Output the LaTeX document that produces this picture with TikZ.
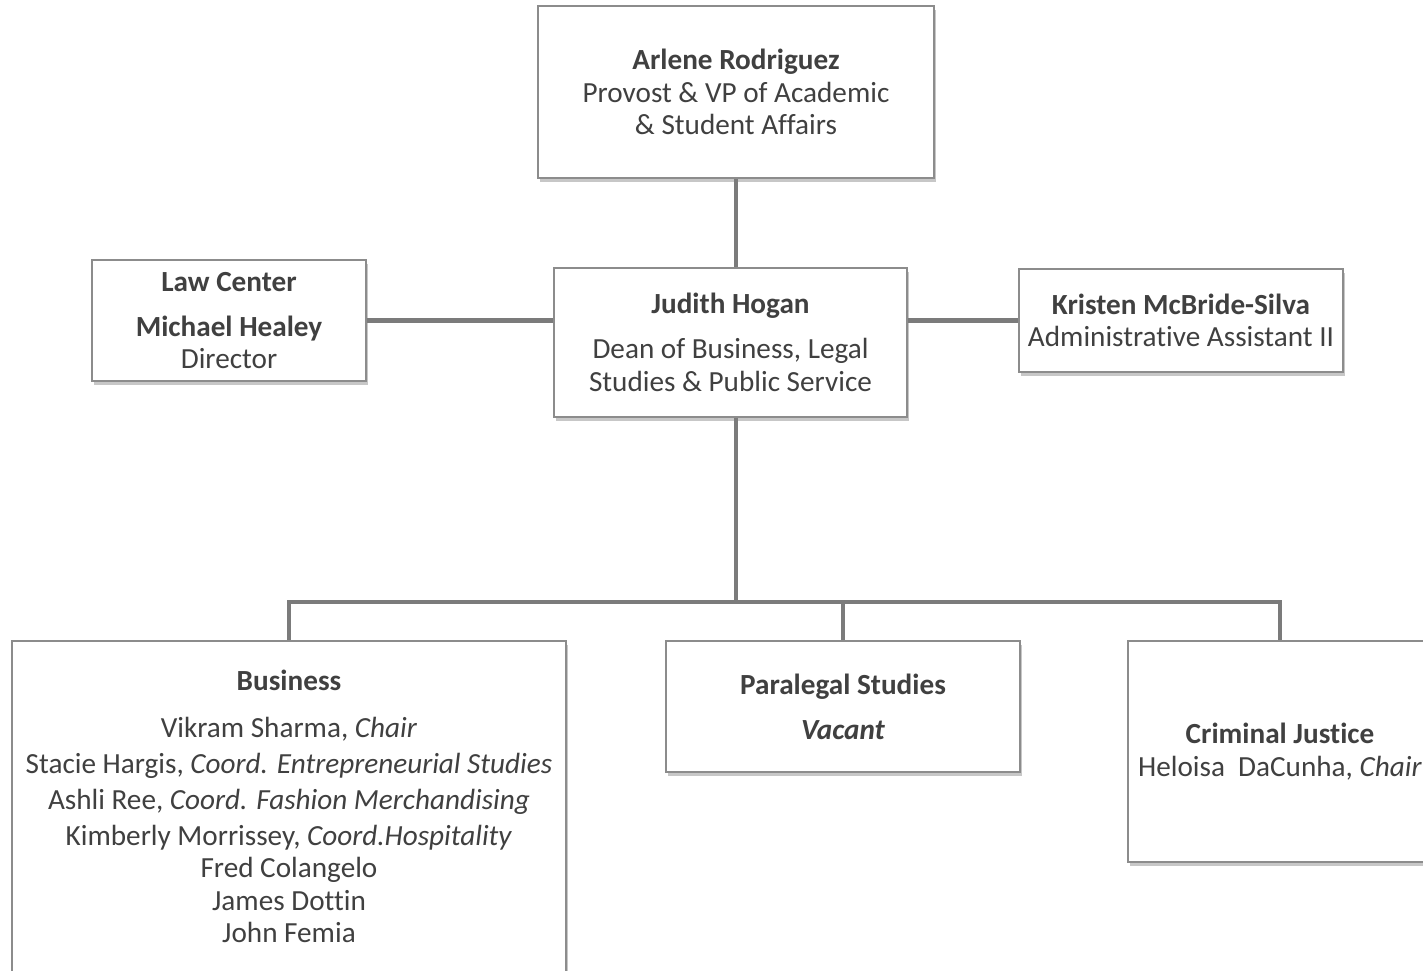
\documentclass[tikz,border=0pt]{standalone}
\usepackage{fontspec}
\setmainfont{Carlito}[Ligatures=NoCommon]
\usetikzlibrary{positioning,shadows}
\definecolor{txtgray}{HTML}{404040}
\definecolor{linegray}{HTML}{7B7B7B}
\definecolor{framegray}{HTML}{8C8C8C}
\begin{document}
\begin{tikzpicture}[x=0.5pt,y=-0.5pt,
  orgbox/.style={draw=framegray,line width=0.75pt,fill=white,align=center,
    text=txtgray,inner sep=0pt,
    font=\fontsize{14.6}{16.25}\selectfont,
    drop shadow={shadow xshift=1.2pt,shadow yshift=-1.8pt,fill=black,opacity=0.22}},
  link/.style={draw=linegray,line width=2.3pt}]
\clip (0,0) rectangle (1423,970);
\fill[white] (0,0) rectangle (1423,970);

% top level
\node[orgbox,minimum width=198pt,minimum height=86pt] (arlene) at (736,92)
  {\textbf{Arlene Rodriguez}\\Provost \& VP of Academic\\\& Student Affairs};

\node[orgbox,minimum width=176.5pt,minimum height=74.5pt] (judith) at (730.5,342.5)
  {\textbf{Judith Hogan}\\[6.25pt]Dean of Business, Legal\\Studies \& Public Service};
\node[orgbox,minimum width=137pt,minimum height=60.5pt] (law) at (229,320.5)
  {\textbf{Law Center}\\[6.25pt]\textbf{Michael Healey}\\Director};
\node[orgbox,minimum width=162pt,minimum height=51.5pt] (kristen) at (1181,320.5)
  {\textbf{Kristen McBride-Silva}\\Administrative Assistant II};

% departments
\node[orgbox,minimum width=277pt,minimum height=176pt] (business) at (289,817)
  {\textbf{Business}\\[7.25pt]
   Vikram Sharma, \textit{Chair}\\[1.75pt]
   Stacie Hargis, \textit{Coord. Entrepreneurial Studies}\\[1.75pt]
   Ashli Ree, \textit{Coord. Fashion Merchandising}\\[1.75pt]
   Kimberly Morrissey, \textit{Coord.Hospitality}\\
   Fred Colangelo\\
   James Dottin\\
   John Femia\rule[-11pt]{0pt}{0pt}};
\node[orgbox,minimum width=177pt,minimum height=65.5pt] (paralegal) at (843,706.5)
  {\textbf{Paralegal Studies}\\[6.25pt]\textbf{\textit{Vacant}}};
\node[orgbox,minimum width=152pt,minimum height=110.5pt] (crimjust) at (1280,751.5)
  {\textbf{Criminal Justice}\\Heloisa\ \ DaCunha, \textit{Chair}};

\coordinate (bus) at (736,602);

\path[link] (arlene.south) edge (arlene.south |- judith.north);
\path[link] (law.east) edge (law.east -| judith.west);
\path[link] (judith.east |- kristen.west) edge (kristen.west);
\path[link] (arlene.south |- judith.south) edge (bus);
\draw[link] (business.north) |- (bus) -| (crimjust.north);
\path[link] (paralegal.north) edge (paralegal.north |- bus);

\end{tikzpicture}
\end{document}
